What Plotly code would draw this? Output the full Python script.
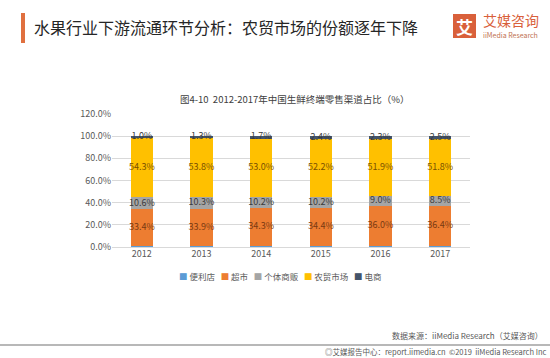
import plotly.graph_objects as go

years = ["2012", "2013", "2014", "2015", "2016", "2017"]
bianlidian = [0.7, 0.7, 0.8, 0.8, 0.8, 0.8]
chaoshi = [33.4, 33.9, 34.3, 34.4, 36.0, 36.4]
getishangfan = [10.6, 10.3, 10.2, 10.2, 9.0, 8.5]
nongmao = [54.3, 53.8, 53.0, 52.2, 51.9, 51.8]
dianshang = [1.0, 1.3, 1.7, 2.4, 2.3, 2.5]
y_ticks = [0, 20, 40, 60, 80, 100, 120]

FONT = "Noto Sans CJK SC"
series = [
    ("便利店", bianlidian, "#5B9BD5", None),
    ("超市", chaoshi, "#ED7D31", "#7a3a12"),
    ("个体商贩", getishangfan, "#A5A5A5", "#3a3a3a"),
    ("农贸市场", nongmao, "#FFC000", "#7a5000"),
    ("电商", dianshang, "#44546A", "#3a3a3a"),
]

fig = go.Figure()
base = [0.0] * len(years)
for name, vals, color, tcolor in series:
    fig.add_trace(go.Bar(x=years, y=vals, name=name, marker=dict(color=color, line=dict(width=0)),
                         width=0.37, hoverinfo="skip", showlegend=False))
    mids = [b + v / 2 for b, v in zip(base, vals)]
    if tcolor:
        fig.add_trace(go.Scatter(x=years, y=mids, mode="text",
                                 text=[f"{v:.1f}%" for v in vals], textposition="middle center",
                                 textfont=dict(family=FONT, size=9, color=tcolor),
                                 showlegend=False, hoverinfo="skip"))
    base = [b + v for b, v in zip(base, vals)]

fig.update_layout(
    width=550, height=358,
    margin=dict(l=112, r=80, t=114, b=111),
    barmode="stack",
    paper_bgcolor="white", plot_bgcolor="white",
    font=dict(family=FONT, size=9, color="#595959"),
    showlegend=False,
    xaxis=dict(showline=False, ticks="", tickfont=dict(family=FONT, size=9, color="#595959")),
    yaxis=dict(range=[0, 120], tickvals=y_ticks, ticktext=[f"{v:.1f}%" for v in y_ticks],
               showgrid=True, gridcolor="#D9D9D9", gridwidth=1, zeroline=True,
               zerolinecolor="#D9D9D9", zerolinewidth=1, ticks="",
               tickfont=dict(family=FONT, size=9, color="#595959")),
)

# custom compact legend built from the series list
legend_text = "   ".join(f"<span style='color:{c}'>■</span> {n}" for n, _, c, _ in series)


def px(xp):
    return (xp - 112) / 358


def py(yp):
    return (247 - yp) / 133


fig.add_shape(type="rect", xref="x domain", yref="y domain",
              x0=px(21), x1=px(25), y0=py(43), y1=py(13),
              fillcolor="#E0703F", line=dict(width=0))
annos = [
    dict(text="水果行业下游流通环节分析：农贸市场的份额逐年下降", x=32, y=27, size=16,
         color="#262626", anchor="left"),
    dict(text="图4-10  2012-2017年中国生鲜终端零售渠道占比（%）", x=295, y=99, size=9.5,
         color="#404040", anchor="center"),
    dict(text=legend_text, x=280, y=276, size=8.5, color="#595959", anchor="center"),
    dict(text="数据来源：iiMedia Research（艾媒咨询）", x=545, y=335, size=8,
         color="#595959", anchor="right"),
    dict(text="◎艾媒报告中心：report.iimedia.cn  ©2019  iiMedia Research Inc", x=548, y=351, size=7.5,
         color="#595959", anchor="right"),
    dict(text="艾媒咨询", x=481, y=20, size=14, color="#D9603B", anchor="left"),
    dict(text="iiMedia Research", x=481, y=34.5, size=7, color="#C0704F", anchor="left"),
    dict(text="<b>艾</b>", x=464.5, y=26, size=17, color="white", anchor="center"),
]

# logo square
fig.add_shape(type="rect", xref="x domain", yref="y domain",
              x0=px(453), x1=px(476), y0=py(38), y1=py(14),
              fillcolor="#D9603B", line=dict(width=0))

for a in annos:
    fig.add_annotation(text=a["text"], xref="x domain", yref="y domain",
                       x=px(a["x"]), y=py(a["y"]),
                       xanchor=a["anchor"], yanchor="middle", showarrow=False,
                       font=dict(family=FONT, size=a["size"], color=a["color"]))

# footer rule
fig.add_shape(type="line", xref="x domain", yref="y domain",
              x0=px(0), x1=px(550), y0=py(345), y1=py(345),
              line=dict(color="#A0A0A0", width=1.5))

fig.write_html("out.html", config={"displayModeBar": False},
               post_script="document.body.style.margin='0';")
